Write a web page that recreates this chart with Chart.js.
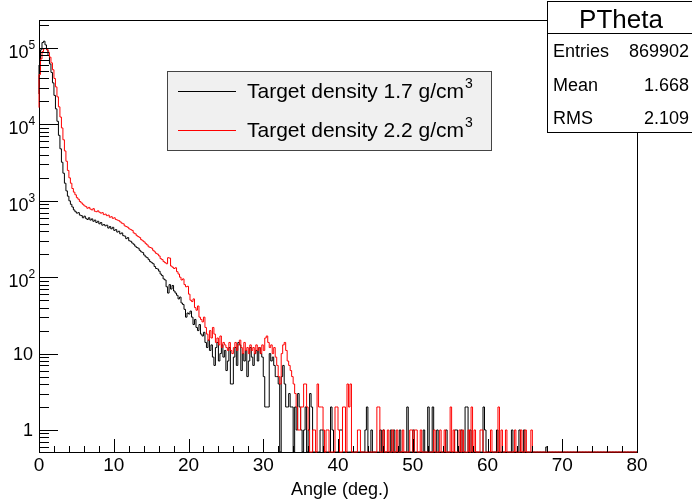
<!DOCTYPE html>
<html>
<head>
<meta charset="utf-8">
<script src="https://cdn.jsdelivr.net/npm/chart.js@4"></script>
<style>
body{margin:0;background:#fff;}
canvas{display:block;}
</style>
</head>
<body>
<canvas id="chart" width="692" height="500"></canvas>
<script>
const binWidth = 0.2;
const nBins = 400;
const xMin = 0, xMax = 80;
const yMin = 0.515, yMax = 2.33e5;

// counts per 0.2 deg bin from 0 to 36 deg (two degrees per row)
const black17 = [
  25000, 60000, 95000, 118000, 123000, 110000, 95000, 80000, 62000, 48000,
  35000, 24000, 16000, 11000, 7200, 4800, 3200, 2300, 1700, 1350,
  1150, 1000, 900, 830, 760, 720, 690, 700, 650, 640,
  600, 630, 590, 570, 600, 560, 580, 540, 560, 520,
  540, 500, 520, 480, 490, 470, 480, 440, 460, 430,
  450, 410, 420, 390, 400, 370, 380, 350, 345, 320,
  330, 300, 295, 280, 270, 255, 245, 240, 225, 215,
  210, 195, 185, 180, 170, 160, 155, 150, 138, 130,
  128, 120, 110, 105, 95, 92, 75, 62, 80, 70,
  78, 66, 62, 58, 52, 55, 46, 44, 38, 30,
  34, 33, 36, 30, 24, 28, 22, 20, 24, 18,
  17, 19, 14, 12, 15, 11, 13, 9, 7, 12,
  14, 8, 10, 13, 9, 11, 6, 8, 12, 4,
  4, 9, 12, 7, 14, 13, 6, 10, 8, 11,
  5, 8, 12, 9, 7, 10, 11, 8, 12, 10,
  9, 5, 2, 2, 2, 10, 8, 9, 7, 5,
  5, 4, 0, 5, 7, 4, 2, 2, 3, 2,
  2, 0, 2, 1, 3, 2, 1, 0, 1, 2
];
const red22 = [
  16600, 45000, 72000, 90000, 98000, 99000, 96000, 88000, 76000, 64000,
  52000, 40000, 31000, 23000, 17000, 12500, 9000, 6300, 4500, 3300,
  2500, 2000, 1700, 1450, 1300, 1200, 1100, 1050, 980, 940,
  900, 860, 840, 800, 820, 780, 760, 790, 730, 720,
  740, 710, 690, 700, 660, 670, 640, 650, 610, 620,
  590, 600, 570, 560, 550, 530, 510, 500, 470, 460,
  450, 430, 420, 410, 380, 370, 350, 340, 330, 310,
  300, 290, 275, 265, 250, 245, 240, 225, 215, 205,
  200, 190, 175, 170, 160, 155, 150, 180, 178, 140,
  135, 130, 133, 118, 110, 100, 92, 95, 80, 75,
  76, 60, 50, 48, 52, 40, 37, 42, 30, 28,
  26, 30, 22, 18, 15, 20, 16, 22, 18, 14,
  16, 13, 17, 12, 14, 13, 12, 11, 14, 11,
  10, 12, 14, 11, 13, 15, 12, 10, 14, 11,
  12, 10, 13, 11, 12, 10, 13, 11, 12, 10,
  13, 11, 16, 17, 14, 12, 13, 10, 12, 9,
  7, 5, 4, 10, 13, 14, 11, 8, 7, 6,
  5, 4, 3, 2, 1, 1, 2, 2, 4, 4
];

// tail above 36 deg, only the non empty bins: [angle, count]
const black17Tail = [
  [36.2, 1], [36.4, 3], [36.6, 2], [37.8, 1], [38.0, 1], [39.2, 2], [39.4, 1],
  [40.4, 1], [40.6, 1], [43.8, 1], [44.0, 2], [44.6, 1], [45.8, 1], [46.2, 1],
  [47.2, 1], [47.6, 1], [48.4, 1], [49.4, 2], [50.2, 1], [51.6, 1], [52.2, 2],
  [52.8, 2], [53.4, 1], [54.6, 1], [55.8, 1], [56.0, 1], [56.6, 1], [57.2, 2],
  [57.4, 2], [57.8, 1], [59.6, 2], [59.8, 1], [61.4, 1], [63.4, 1], [64.4, 1],
  [65.0, 1], [68.0, 0.6]
];
const red22Tail = [
  [36.0, 2], [36.2, 1], [36.8, 1], [37.0, 1], [37.4, 4], [37.6, 2], [37.8, 2],
  [38.0, 2], [38.2, 1], [38.6, 1], [38.8, 1], [39.8, 2], [40.0, 2], [40.2, 1],
  [40.8, 2], [41.0, 2], [41.4, 4], [41.6, 2], [41.8, 4], [42.8, 1], [43.0, 1],
  [45.4, 2], [45.6, 2], [46.2, 1], [46.8, 1], [47.4, 1], [48.0, 1], [48.8, 1],
  [49.8, 1], [50.0, 1], [50.4, 1], [50.6, 1], [51.2, 1], [53.0, 1], [53.8, 1],
  [54.4, 1], [55.2, 2], [55.6, 1], [56.4, 1], [56.8, 1], [57.6, 1], [58.0, 2],
  [58.4, 1], [59.2, 1], [59.4, 1], [60.6, 1], [61.6, 2], [62.0, 1], [62.6, 1],
  [63.8, 1], [64.6, 1], [65.2, 1], [66.0, 1]
];

const xTickStep = 10;
const yDecades = [1, 10, 100, 1000, 10000, 100000];
const legendLabels = ['Target density 1.7 g/cm', 'Target density 2.2 g/cm'];
const legendColors = ['#000000', '#ff0000'];
const xTitle = 'Angle (deg.)';
const statsTitle = 'PTheta';
const statsNames = ['Entries', 'Mean', 'RMS'];
const statsValues = ['869902', '1.668', '2.109'];

const FONT = '"Liberation Sans", Arial, Helvetica, sans-serif';

function buildSteps(main, tail) {
    let counts = new Array(nBins).fill(0);
    main.forEach((c, i) => counts[i] = c);
    tail.forEach(([a, c]) => counts[Math.round(a / binWidth)] = c);
    // empty bins sit on the bottom of the frame, like ROOT does
    let pts = counts.map((c, i) => ({x: +(i * binWidth).toFixed(1), y: c > 0 ? c : yMin}));
    pts.push({x: xMax, y: pts[pts.length - 1].y});
    return pts;
}

const rootStyle = {
    id: 'rootStyle',
    beforeDatasetsDraw(chart) {
        const ctx = chart.ctx;
        const {left, right, top, bottom} = chart.chartArea;
        ctx.save();
        ctx.strokeStyle = '#000';
        ctx.lineWidth = 1;
        ctx.strokeRect(left + 0.5, top + 0.5, right - left, bottom - top);
        ctx.restore();
    },
    afterDatasetsDraw(chart) {
        const ctx = chart.ctx;
        const {left, right, top, bottom} = chart.chartArea;
        const xs = chart.scales.x, ys = chart.scales.y;
        ctx.save();
        ctx.strokeStyle = '#000';
        ctx.lineWidth = 1;

        // x ticks, drawn inward
        ctx.beginPath();
        for (let v = xMin; v <= xMax; v += 2) {
            let px = Math.round(xs.getPixelForValue(v)) + 0.5;
            let len = v % xTickStep === 0 ? 13 : 6;
            ctx.moveTo(px, bottom);
            ctx.lineTo(px, bottom - len);
        }
        // y ticks, decades long, the rest short
        for (let d = 0.1; d <= 1e5; d *= 10) {
            for (let k = 1; k <= 9; k++) {
                let v = k * d;
                if (v < yMin || v > yMax) continue;
                let py = Math.round(ys.getPixelForValue(v)) + 0.5;
                ctx.moveTo(left, py);
                ctx.lineTo(left + (k === 1 ? 19 : 10), py);
            }
        }
        ctx.stroke();

        // y labels with exponents
        ctx.fillStyle = '#000';
        yDecades.forEach(d => {
            let e = Math.round(Math.log10(d));
            let py = ys.getPixelForValue(d);
            ctx.textBaseline = 'alphabetic';
            if (e < 2) {
                ctx.font = '18px ' + FONT;
                ctx.textAlign = 'right';
                ctx.fillText(String(d), 33, py + 6.5);
            } else {
                ctx.font = '18px ' + FONT;
                ctx.textAlign = 'right';
                ctx.fillText('10', 28.5, py + 10);
                ctx.font = '12px ' + FONT;
                ctx.textAlign = 'left';
                ctx.fillText(String(e), 28.5, py + 1);
            }
        });

        // x axis title
        ctx.font = '18px ' + FONT;
        ctx.textAlign = 'center';
        ctx.fillText(xTitle, 340, 495);

        // legend
        ctx.fillStyle = '#f0f0f0';
        ctx.fillRect(167.5, 71.5, 324, 79);
        ctx.strokeStyle = '#444';
        ctx.strokeRect(167.5, 71.5, 324, 79);
        legendLabels.forEach((txt, i) => {
            let ly = 91.5 + i * 39;
            ctx.strokeStyle = legendColors[i];
            ctx.beginPath();
            ctx.moveTo(178, ly);
            ctx.lineTo(236, ly);
            ctx.stroke();
            ctx.fillStyle = '#000';
            ctx.font = '21px ' + FONT;
            ctx.textAlign = 'left';
            ctx.fillText(txt, 247, ly + 6.5);
            let w = ctx.measureText(txt).width;
            ctx.font = '14px ' + FONT;
            ctx.fillText('3', 247 + w + 1, ly - 3.5);
        });

        // stats box
        ctx.fillStyle = '#fff';
        ctx.fillRect(547.5, 1.5, 150, 131);
        ctx.strokeStyle = '#000';
        ctx.strokeRect(547.5, 1.5, 150, 131);
        ctx.beginPath();
        ctx.moveTo(547.5, 33.5);
        ctx.lineTo(692, 33.5);
        ctx.stroke();
        ctx.fillStyle = '#000';
        ctx.font = '26px ' + FONT;
        ctx.textAlign = 'center';
        ctx.fillText(statsTitle, 621, 28);
        ctx.font = '18px ' + FONT;
        statsNames.forEach((n, i) => {
            let by = 57 + i * 33.5;
            ctx.textAlign = 'left';
            ctx.fillText(n, 553, by);
            ctx.textAlign = 'right';
            ctx.fillText(statsValues[i], 689, by);
        });
        ctx.restore();
    }
};

let chart = new Chart(document.getElementById('chart'), {
    type: 'line',
    data: {
        datasets: [{
            label: legendLabels[1] + '3',
            data: buildSteps(red22, red22Tail),
            borderColor: legendColors[1],
            borderWidth: 1,
            stepped: 'after',
            pointRadius: 0,
            fill: false,
            order: 1,
            clip: 2
        }, {
            label: legendLabels[0] + '3',
            data: buildSteps(black17, black17Tail),
            borderColor: legendColors[0],
            borderWidth: 1,
            stepped: 'after',
            pointRadius: 0,
            fill: false,
            order: 2,
            clip: 2
        }]
    },
    options: {
        responsive: false,
        animation: false,
        devicePixelRatio: 1,
        layout: {padding: {top: 20, right: 55, left: 0, bottom: 0}},
        plugins: {legend: {display: false}, tooltip: {enabled: false}},
        scales: {
            x: {
                type: 'linear',
                min: xMin,
                max: xMax,
                grid: {display: false, drawTicks: false},
                border: {display: false},
                ticks: {stepSize: xTickStep, color: '#000', font: {family: FONT, size: 19}, padding: 2, maxRotation: 0, autoSkip: false},
                afterFit: s => { s.height = 48; }
            },
            y: {
                type: 'logarithmic',
                min: yMin,
                max: yMax,
                grid: {display: false, drawTicks: false},
                border: {display: false},
                ticks: {display: false},
                afterFit: s => { s.width = 39; }
            }
        }
    },
    plugins: [rootStyle]
});
</script>
</body>
</html>
